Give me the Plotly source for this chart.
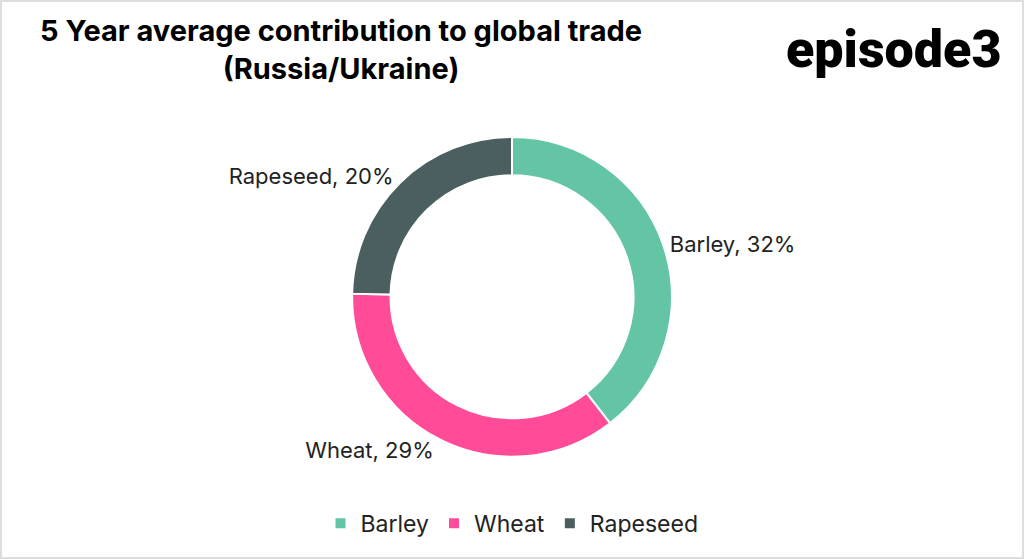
import plotly.graph_objects as go

crops = ["Barley", "Wheat", "Rapeseed"]
share_pct = [32, 29, 20]
colours = ["#63C5A6", "#FF4B98", "#4C5F60"]

title_lines = ["5 Year average contribution to global trade", "(Russia/Ukraine)"]
brand = "episode3"

fig = go.Figure()

fig.add_trace(
    go.Pie(
        labels=crops,
        values=share_pct,
        hole=0.76,
        sort=False,
        direction="clockwise",
        rotation=0,
        marker=dict(colors=colours, line=dict(color="white", width=2)),
        texttemplate="%{label}, %{value}%",
        textposition="outside",
        textfont=dict(family="Inter", size=22, color="#222222"),
        domain=dict(x=[0.3, 0.7], y=[0.183, 0.755]),
        hoverinfo="label+value",
    )
)

fig.update_layout(
    width=1024,
    height=559,
    paper_bgcolor="white",
    plot_bgcolor="white",
    margin=dict(l=0, r=0, t=0, b=0),
    legend=dict(
        orientation="h",
        x=0.5,
        xanchor="center",
        y=0.064,
        yanchor="middle",
        font=dict(family="Inter", size=23, color="#222222"),
        itemwidth=30,
    ),
    annotations=[
        # chart title
        dict(
            text="<br>".join(title_lines),
            xref="paper",
            yref="paper",
            x=0.333,
            y=0.98,
            xanchor="center",
            yanchor="top",
            showarrow=False,
            font=dict(family="Inter", size=29, color="black", weight="bold"),
        ),
        # brand logo
        dict(
            text=brand,
            xref="paper",
            yref="paper",
            x=0.98,
            y=0.97,
            xanchor="right",
            yanchor="top",
            showarrow=False,
            font=dict(family="Roboto", size=52, color="black", weight=900),
        ),
    ],
    shapes=[
        dict(
            type="rect",
            xref="paper",
            yref="paper",
            x0=0,
            y0=0,
            x1=1,
            y1=1,
            line=dict(color="#DDDDDD", width=4),
        )
    ],
)

fig.write_html(
    "out.html",
    config={"displayModeBar": False},
    post_script="document.body.style.margin='0';",
)
